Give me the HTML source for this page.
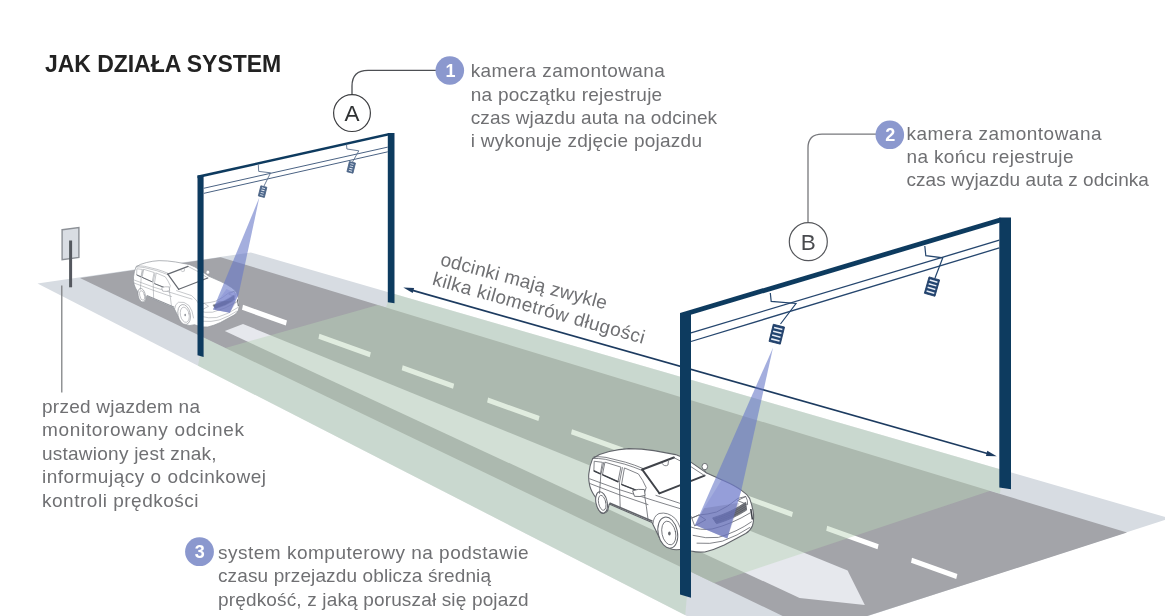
<!DOCTYPE html>
<html lang="pl"><head><meta charset="utf-8"><title>Jak działa system</title>
<style>html,body{margin:0;padding:0;background:#fff}svg{display:block}</style></head>
<body>
<svg width="1165" height="616" viewBox="0 0 1165 616">
<defs><filter id="soft" filterUnits="userSpaceOnUse" x="-40" y="-40" width="1245" height="696"><feGaussianBlur stdDeviation="0.5"/></filter></defs>
<rect width="1165" height="616" fill="#ffffff"/>
<g filter="url(#soft)">
<polygon points="37.5,283.5 250.8,252.5 1169.8,518.4 757.0,651.9" fill="#d7dce2"/>
<polygon points="80.0,278.0 220.7,257.2 1127.0,532.6 816.5,632.3" fill="#a3a4a9"/>
<polygon points="243.0,324.0 847.6,570.6 864.8,605.0 799.6,598.0 224.8,331.0" fill="#e6e8ed"/>
<polygon points="243.0,304.8 287.0,320.6 285.8,325.6 242.0,309.8" fill="#ffffff"/>
<polygon points="319.4,333.8 370.9,352.3 369.7,357.3 318.4,338.8" fill="#ffffff"/>
<polygon points="402.7,365.3 454.2,383.8 453.0,388.8 401.7,370.3" fill="#ffffff"/>
<polygon points="488.1,397.5 539.6,416.1 538.4,421.1 487.1,402.5" fill="#ffffff"/>
<polygon points="572.0,429.3 623.5,447.8 622.3,452.8 571.0,434.3" fill="#ffffff"/>
<polygon points="656.5,461.2 708.0,479.7 706.8,484.7 655.5,466.2" fill="#ffffff"/>
<polygon points="741.5,493.3 793.0,511.9 791.8,516.9 740.5,498.3" fill="#ffffff"/>
<polygon points="827.2,525.7 878.7,544.3 877.5,549.3 826.2,530.7" fill="#ffffff"/>
<polygon points="912.0,557.7 957.4,574.0 956.2,579.0 911.0,562.7" fill="#ffffff"/>
<clipPath id="cg"><polygon points="37.5,283.5 250.8,252.5 1169.8,518.4 757.0,651.9" /></clipPath>
<g clip-path="url(#cg)"><polygon points="392.0,288.0 1003.0,462.0 1000.0,493.7 990.4,490.7 713.9,582.9 689.0,571.0 684.0,630.0 190.0,380.0 197.5,368.0 203.5,337.4 225.4,347.9 377.9,304.9 386.0,307.5" fill="#b9d3b6" fill-opacity="0.44"/></g>
<polygon points="62.1,229.7 78.9,227.5 78.9,257.5 62.1,259.7" fill="#d9dde3" stroke="#8c9096" stroke-width="1.4"/>
<line x1="70.6" y1="240.5" x2="70.6" y2="287.3" stroke="#54585e" stroke-width="3"/>
<line x1="61.8" y1="285.6" x2="61.8" y2="392.4" stroke="#77787b" stroke-width="1.2"/>
<line x1="410.0" y1="289.6" x2="990.0" y2="454.3" stroke="#1d3b60" stroke-width="1.7"/>
<polygon points="403.3,287.6 414.1,287.9 412.7,293.1" fill="#1d3b60"/>
<polygon points="996.7,456.2 985.9,455.9 987.3,450.7" fill="#1d3b60"/>
<g id="car1" transform="translate(-243.9,-26.9) scale(0.641)"><path d="M592.7,458.4 L599.5,454.5 L609.2,451.5 Q619,449 628.7,448.6 Q642,448.6 654,450.6 L675.6,454.6 Q684,457.5 691.2,462.4 L706.7,473.1 L724.3,480.9 Q735,485.5 741.8,490.6 Q747,494 749.6,498.4 Q752.5,506 753.5,514 Q754,521 752.5,525.7 Q750.5,530.5 745.7,533.5 L724.3,545.1 Q714,550 704.8,552 Q697,552.6 691.2,551 L684,548.5 Q676,551 670,548.5 Q664,546 660,539 L652,522.6 L609.2,504.1 L607.5,511 Q604,515 600.5,512.5 Q596.5,508 595.6,497.4 Q591,491 589.7,485.6 Q588.3,480 588.8,473.9 Q589.8,465 592.7,458.4 Z" fill="#ffffff" stroke="#92959b" stroke-width="1.1" stroke-linejoin="round"/>
<ellipse cx="667.8" cy="532.6" rx="9.6" ry="15.8" transform="rotate(-12 667.8 532.6)" fill="#fff" stroke="#92959b" stroke-width="1"/>
<ellipse cx="668.8" cy="533" rx="6.8" ry="12" transform="rotate(-12 668.8 533)" fill="none" stroke="#92959b" stroke-width="0.8" stroke-linejoin="round" stroke-linecap="round"/>
<ellipse cx="669.4" cy="533.4" rx="1.3" ry="2" fill="#92959b"/>
<ellipse cx="601.6" cy="502.4" rx="5.6" ry="10.8" transform="rotate(-12 601.6 502.4)" fill="#fff" stroke="#92959b" stroke-width="1"/>
<ellipse cx="602.2" cy="502.8" rx="3.6" ry="7.6" transform="rotate(-12 602.2 502.8)" fill="none" stroke="#92959b" stroke-width="0.8" stroke-linejoin="round" stroke-linecap="round"/>
<path d="M653,523.5 Q653.5,516 659,513.5 Q668,511.5 675.4,518.7 Q681,526 682.5,538" fill="none" stroke="#92959b" stroke-width="0.8" stroke-linejoin="round" stroke-linecap="round"/>
<path d="M609.5,503 L652.5,521.3" fill="none" stroke="#92959b" stroke-width="1.6"/>
<path d="M592.7,458.4 Q598,458.2 605.3,459.3 L624.8,464.2 Q634,467 642.3,470.5" fill="none" stroke="#92959b" stroke-width="0.8" stroke-linejoin="round" stroke-linecap="round"/>
<path d="M594,456.8 Q600,456.4 606,457.4 L625.5,462.2 Q635,465 643,468.5" fill="none" stroke="#92959b" stroke-width="0.8" stroke-linejoin="round" stroke-linecap="round"/>
<path d="M594.6,461.3 L602.4,462.3 L600.4,473.9 L594.2,471 Z" fill="none" stroke="#92959b" stroke-width="0.8" stroke-linejoin="round" stroke-linecap="round"/>
<path d="M605.3,462.3 L620.9,467.1 L618,481.7 L602.8,474.9 Z" fill="none" stroke="#92959b" stroke-width="0.8" stroke-linejoin="round" stroke-linecap="round"/>
<path d="M624.8,468.1 L638.4,473.9 Q643,480 646.2,487.6 L644.3,493.4 L621.9,484.6 Z" fill="none" stroke="#92959b" stroke-width="0.8" stroke-linejoin="round" stroke-linecap="round"/>
<path d="M594.2,471 L600.4,473.9 M602.8,474.9 L618,481.7 M621.9,484.6 L644.3,493.4" fill="none" stroke="#666a71" stroke-width="1.5" stroke-linecap="round"/>
<path d="M603.8,462.3 L600.8,474.9 L599.5,493.4" fill="none" stroke="#92959b" stroke-width="0.8" stroke-linejoin="round" stroke-linecap="round"/>
<path d="M622.4,467.6 L619.4,482.7 L620.2,507.6" fill="none" stroke="#92959b" stroke-width="0.8" stroke-linejoin="round" stroke-linecap="round"/>
<path d="M644.3,493.4 Q646.5,506 648.1,520" fill="none" stroke="#92959b" stroke-width="0.8" stroke-linejoin="round" stroke-linecap="round"/>
<path d="M589.7,478.8 L618.9,489.5 L655.9,501.2 L680,508.6" fill="none" stroke="#92959b" stroke-width="0.8" stroke-linejoin="round" stroke-linecap="round"/>
<path d="M589.5,483.4 L618.9,494.6 L648,504.6" fill="none" stroke="#92959b" stroke-width="0.8" stroke-linejoin="round" stroke-linecap="round"/>
<path d="M632.6,490.8 Q638,488.6 644.3,489.5 L645.2,495.4 Q640,497.2 634.5,496.3 Z" fill="#fff" stroke="#92959b" stroke-width="0.9"/>
<path d="M642.3,469.6 L673.9,457.6" fill="none" stroke="#666a71" stroke-width="2.1" stroke-linecap="round"/>
<path d="M642.3,469.6 L659.4,493.3" fill="none" stroke="#666a71" stroke-width="1.9" stroke-linecap="round"/>
<path d="M659.4,493.3 L704.6,475.6" fill="none" stroke="#666a71" stroke-width="1.9" stroke-linecap="round"/>
<path d="M673.9,457.6 Q690,465 704.6,475.6" fill="none" stroke="#92959b" stroke-width="0.8" stroke-linejoin="round" stroke-linecap="round"/>
<path d="M662,463.4 Q664.5,467.2 668,465 L668.4,461.4" fill="none" stroke="#92959b" stroke-width="0.8" stroke-linejoin="round" stroke-linecap="round"/>
<ellipse cx="704.8" cy="466.6" rx="2.8" ry="3.2" fill="#fff" stroke="#92959b" stroke-width="0.9"/>
<path d="M704.2,469.6 L706.4,473" fill="none" stroke="#92959b" stroke-width="0.8" stroke-linejoin="round" stroke-linecap="round"/>
<path d="M655.9,495.4 L679.3,503.1 Q687,509 692.1,517.9" fill="none" stroke="#92959b" stroke-width="0.8" stroke-linejoin="round" stroke-linecap="round"/>
<path d="M692.1,517.9 L698.9,515 Q708,514.4 716.5,512 Q728,507 737.9,498.4 L745.7,496.5" fill="none" stroke="#92959b" stroke-width="0.8" stroke-linejoin="round" stroke-linecap="round"/>
<path d="M692.1,517.9 L698.9,515 L705.8,519.8 L695,525.7 Z" fill="none" stroke="#92959b" stroke-width="0.8" stroke-linejoin="round" stroke-linecap="round"/>
<path d="M737.9,500.4 L745.7,496.5 Q748,500 747.6,504.3 Z" fill="none" stroke="#92959b" stroke-width="0.8" stroke-linejoin="round" stroke-linecap="round"/>
<path d="M712.6,517.9 Q731,512.5 745.7,502.3 L746.6,510.1 Q733,519 716.5,523.7 Z" fill="#74777e" stroke="#92959b" stroke-width="0.8"/>
<path d="M713.6,519.4 Q731.4,514.1 745.9,504.2" fill="none" stroke="#4b4e55" stroke-width="0.6"/>
<path d="M714.6,520.8 Q731.8,515.8 746.2,506.2" fill="none" stroke="#4b4e55" stroke-width="0.6"/>
<path d="M715.5,522.2 Q732.1,517.4 746.4,508.2" fill="none" stroke="#4b4e55" stroke-width="0.6"/>
<path d="M693.1,535.4 Q706,539 718.4,537.4 Q737,532 751.5,521.8" fill="none" stroke="#92959b" stroke-width="0.8" stroke-linejoin="round" stroke-linecap="round"/>
<path d="M697,543.2 Q710,544.5 722.3,541.2 Q738,535.5 749.6,527.6" fill="none" stroke="#92959b" stroke-width="0.8" stroke-linejoin="round" stroke-linecap="round"/>
<path d="M691,527 Q700,530.5 712,529 Q732,524 750,513" fill="none" stroke="#92959b" stroke-width="0.8" stroke-linejoin="round" stroke-linecap="round"/>
<path d="M750.8,509 L752.4,519.5" fill="none" stroke="#666a71" stroke-width="1.6"/></g>
<g id="car2"><path d="M592.7,458.4 L599.5,454.5 L609.2,451.5 Q619,449 628.7,448.6 Q642,448.6 654,450.6 L675.6,454.6 Q684,457.5 691.2,462.4 L706.7,473.1 L724.3,480.9 Q735,485.5 741.8,490.6 Q747,494 749.6,498.4 Q752.5,506 753.5,514 Q754,521 752.5,525.7 Q750.5,530.5 745.7,533.5 L724.3,545.1 Q714,550 704.8,552 Q697,552.6 691.2,551 L684,548.5 Q676,551 670,548.5 Q664,546 660,539 L652,522.6 L609.2,504.1 L607.5,511 Q604,515 600.5,512.5 Q596.5,508 595.6,497.4 Q591,491 589.7,485.6 Q588.3,480 588.8,473.9 Q589.8,465 592.7,458.4 Z" fill="#ffffff" stroke="#62656b" stroke-width="1.1" stroke-linejoin="round"/>
<ellipse cx="667.8" cy="532.6" rx="9.6" ry="15.8" transform="rotate(-12 667.8 532.6)" fill="#fff" stroke="#62656b" stroke-width="1"/>
<ellipse cx="668.8" cy="533" rx="6.8" ry="12" transform="rotate(-12 668.8 533)" fill="none" stroke="#62656b" stroke-width="0.8" stroke-linejoin="round" stroke-linecap="round"/>
<ellipse cx="669.4" cy="533.4" rx="1.3" ry="2" fill="#62656b"/>
<ellipse cx="601.6" cy="502.4" rx="5.6" ry="10.8" transform="rotate(-12 601.6 502.4)" fill="#fff" stroke="#62656b" stroke-width="1"/>
<ellipse cx="602.2" cy="502.8" rx="3.6" ry="7.6" transform="rotate(-12 602.2 502.8)" fill="none" stroke="#62656b" stroke-width="0.8" stroke-linejoin="round" stroke-linecap="round"/>
<path d="M653,523.5 Q653.5,516 659,513.5 Q668,511.5 675.4,518.7 Q681,526 682.5,538" fill="none" stroke="#62656b" stroke-width="0.8" stroke-linejoin="round" stroke-linecap="round"/>
<path d="M609.5,503 L652.5,521.3" fill="none" stroke="#62656b" stroke-width="1.6"/>
<path d="M592.7,458.4 Q598,458.2 605.3,459.3 L624.8,464.2 Q634,467 642.3,470.5" fill="none" stroke="#62656b" stroke-width="0.8" stroke-linejoin="round" stroke-linecap="round"/>
<path d="M594,456.8 Q600,456.4 606,457.4 L625.5,462.2 Q635,465 643,468.5" fill="none" stroke="#62656b" stroke-width="0.8" stroke-linejoin="round" stroke-linecap="round"/>
<path d="M594.6,461.3 L602.4,462.3 L600.4,473.9 L594.2,471 Z" fill="none" stroke="#62656b" stroke-width="0.8" stroke-linejoin="round" stroke-linecap="round"/>
<path d="M605.3,462.3 L620.9,467.1 L618,481.7 L602.8,474.9 Z" fill="none" stroke="#62656b" stroke-width="0.8" stroke-linejoin="round" stroke-linecap="round"/>
<path d="M624.8,468.1 L638.4,473.9 Q643,480 646.2,487.6 L644.3,493.4 L621.9,484.6 Z" fill="none" stroke="#62656b" stroke-width="0.8" stroke-linejoin="round" stroke-linecap="round"/>
<path d="M594.2,471 L600.4,473.9 M602.8,474.9 L618,481.7 M621.9,484.6 L644.3,493.4" fill="none" stroke="#3f4349" stroke-width="1.5" stroke-linecap="round"/>
<path d="M603.8,462.3 L600.8,474.9 L599.5,493.4" fill="none" stroke="#62656b" stroke-width="0.8" stroke-linejoin="round" stroke-linecap="round"/>
<path d="M622.4,467.6 L619.4,482.7 L620.2,507.6" fill="none" stroke="#62656b" stroke-width="0.8" stroke-linejoin="round" stroke-linecap="round"/>
<path d="M644.3,493.4 Q646.5,506 648.1,520" fill="none" stroke="#62656b" stroke-width="0.8" stroke-linejoin="round" stroke-linecap="round"/>
<path d="M589.7,478.8 L618.9,489.5 L655.9,501.2 L680,508.6" fill="none" stroke="#62656b" stroke-width="0.8" stroke-linejoin="round" stroke-linecap="round"/>
<path d="M589.5,483.4 L618.9,494.6 L648,504.6" fill="none" stroke="#62656b" stroke-width="0.8" stroke-linejoin="round" stroke-linecap="round"/>
<path d="M632.6,490.8 Q638,488.6 644.3,489.5 L645.2,495.4 Q640,497.2 634.5,496.3 Z" fill="#fff" stroke="#62656b" stroke-width="0.9"/>
<path d="M642.3,469.6 L673.9,457.6" fill="none" stroke="#3f4349" stroke-width="2.1" stroke-linecap="round"/>
<path d="M642.3,469.6 L659.4,493.3" fill="none" stroke="#3f4349" stroke-width="1.9" stroke-linecap="round"/>
<path d="M659.4,493.3 L704.6,475.6" fill="none" stroke="#3f4349" stroke-width="1.9" stroke-linecap="round"/>
<path d="M673.9,457.6 Q690,465 704.6,475.6" fill="none" stroke="#62656b" stroke-width="0.8" stroke-linejoin="round" stroke-linecap="round"/>
<path d="M662,463.4 Q664.5,467.2 668,465 L668.4,461.4" fill="none" stroke="#62656b" stroke-width="0.8" stroke-linejoin="round" stroke-linecap="round"/>
<ellipse cx="704.8" cy="466.6" rx="2.8" ry="3.2" fill="#fff" stroke="#62656b" stroke-width="0.9"/>
<path d="M704.2,469.6 L706.4,473" fill="none" stroke="#62656b" stroke-width="0.8" stroke-linejoin="round" stroke-linecap="round"/>
<path d="M655.9,495.4 L679.3,503.1 Q687,509 692.1,517.9" fill="none" stroke="#62656b" stroke-width="0.8" stroke-linejoin="round" stroke-linecap="round"/>
<path d="M692.1,517.9 L698.9,515 Q708,514.4 716.5,512 Q728,507 737.9,498.4 L745.7,496.5" fill="none" stroke="#62656b" stroke-width="0.8" stroke-linejoin="round" stroke-linecap="round"/>
<path d="M692.1,517.9 L698.9,515 L705.8,519.8 L695,525.7 Z" fill="none" stroke="#62656b" stroke-width="0.8" stroke-linejoin="round" stroke-linecap="round"/>
<path d="M737.9,500.4 L745.7,496.5 Q748,500 747.6,504.3 Z" fill="none" stroke="#62656b" stroke-width="0.8" stroke-linejoin="round" stroke-linecap="round"/>
<path d="M712.6,517.9 Q731,512.5 745.7,502.3 L746.6,510.1 Q733,519 716.5,523.7 Z" fill="#74777e" stroke="#62656b" stroke-width="0.8"/>
<path d="M713.6,519.4 Q731.4,514.1 745.9,504.2" fill="none" stroke="#4b4e55" stroke-width="0.6"/>
<path d="M714.6,520.8 Q731.8,515.8 746.2,506.2" fill="none" stroke="#4b4e55" stroke-width="0.6"/>
<path d="M715.5,522.2 Q732.1,517.4 746.4,508.2" fill="none" stroke="#4b4e55" stroke-width="0.6"/>
<path d="M693.1,535.4 Q706,539 718.4,537.4 Q737,532 751.5,521.8" fill="none" stroke="#62656b" stroke-width="0.8" stroke-linejoin="round" stroke-linecap="round"/>
<path d="M697,543.2 Q710,544.5 722.3,541.2 Q738,535.5 749.6,527.6" fill="none" stroke="#62656b" stroke-width="0.8" stroke-linejoin="round" stroke-linecap="round"/>
<path d="M691,527 Q700,530.5 712,529 Q732,524 750,513" fill="none" stroke="#62656b" stroke-width="0.8" stroke-linejoin="round" stroke-linecap="round"/>
<path d="M750.8,509 L752.4,519.5" fill="none" stroke="#3f4349" stroke-width="1.6"/></g>
<polygon points="259.3,197.6 238.5,294.8 229.8,312.8 213.0,309.6" fill="#6878c8" fill-opacity="0.6"/>
<polygon points="226.5,289.0 238.5,294.8 229.8,312.8 213.0,309.6 218.0,301.0" fill="#7a80d0" fill-opacity="0.35"/>
<polygon points="218.0,301.0 237.0,301.2 229.8,312.8 213.0,309.6" fill="#50558a" fill-opacity="0.22"/>
<polygon points="773.0,347.7 741.5,489.5 727.3,538.5 695.0,525.0" fill="#6878c8" fill-opacity="0.6"/>
<polygon points="722.2,479.0 741.5,489.5 727.3,538.5 695.0,525.0 704.0,508.2" fill="#7a80d0" fill-opacity="0.35"/>
<polygon points="704.0,508.2 739.5,502.8 727.3,538.5 695.0,525.0" fill="#50558a" fill-opacity="0.22"/>
<polygon points="197.5,175.6 203.6,175.6 203.6,357.0 197.5,355.2" fill="#113a5f"/>
<polygon points="387.8,133.0 394.5,133.0 394.5,303.2 387.8,302.2" fill="#113a5f"/>
<polygon points="197.5,175.6 388.8,133.0 388.8,135.6 197.5,178.2" fill="#113a5f"/>
<line x1="203.6" y1="188.3" x2="387.8" y2="147.1" stroke="#4a6283" stroke-width="1.0"/>
<line x1="203.6" y1="193.4" x2="387.8" y2="151.8" stroke="#4a6283" stroke-width="1.0"/>
<polygon points="680.0,313.0 691.0,313.0 691.0,597.8 680.0,594.5" fill="#113a5f"/>
<polygon points="999.3,217.5 1011.0,217.5 1011.0,489.3 999.3,487.5" fill="#113a5f"/>
<polygon points="680.0,313.0 1000.3,217.5 1000.3,222.5 680.0,318.0" fill="#113a5f"/>
<line x1="691.0" y1="332.9" x2="999.3" y2="240.2" stroke="#25466e" stroke-width="1.3"/>
<line x1="691.0" y1="341.5" x2="999.3" y2="247.9" stroke="#25466e" stroke-width="1.3"/>
<polyline points="258.3,164.5 258.7,171.4 270.6,172.8 264.0,186.0" fill="none" stroke="#5a6f8c" stroke-width="0.9"/>
<g transform="translate(262.6,191.6) rotate(14)"><rect x="-3.1" y="-5.2" width="6.2" height="10.4" fill="#4e688c" stroke="#4a6283" stroke-width="0.8"/><line x1="-1.6" y1="-3.5" x2="1.6" y2="-3.5" stroke="#e8edf5" stroke-width="0.94"/><line x1="-1.6" y1="-1.2" x2="1.6" y2="-1.2" stroke="#e8edf5" stroke-width="0.94"/><line x1="-1.6" y1="1.2" x2="1.6" y2="1.2" stroke="#e8edf5" stroke-width="0.94"/><line x1="-1.6" y1="3.5" x2="1.6" y2="3.5" stroke="#e8edf5" stroke-width="0.94"/></g>
<polyline points="346.5,144.5 346.9,149.0 358.8,150.8 352.5,162.0" fill="none" stroke="#5a6f8c" stroke-width="0.9"/>
<g transform="translate(351.2,167.4) rotate(14)"><rect x="-3.1" y="-5.2" width="6.2" height="10.4" fill="#4e688c" stroke="#4a6283" stroke-width="0.8"/><line x1="-1.6" y1="-3.5" x2="1.6" y2="-3.5" stroke="#e8edf5" stroke-width="0.94"/><line x1="-1.6" y1="-1.2" x2="1.6" y2="-1.2" stroke="#e8edf5" stroke-width="0.94"/><line x1="-1.6" y1="1.2" x2="1.6" y2="1.2" stroke="#e8edf5" stroke-width="0.94"/><line x1="-1.6" y1="3.5" x2="1.6" y2="3.5" stroke="#e8edf5" stroke-width="0.94"/></g>
<polyline points="770.3,293.0 771.2,301.4 796.0,303.5 780.5,324.0" fill="none" stroke="#25466e" stroke-width="1.2"/>
<g transform="translate(776.8,334.2) rotate(14)"><rect x="-5.8" y="-8.8" width="11.6" height="17.6" fill="#224470" stroke="#1b3a63" stroke-width="0.8"/><line x1="-4.3" y1="-5.9" x2="4.3" y2="-5.9" stroke="#e8edf5" stroke-width="1.58"/><line x1="-4.3" y1="-2.0" x2="4.3" y2="-2.0" stroke="#e8edf5" stroke-width="1.58"/><line x1="-4.3" y1="2.0" x2="4.3" y2="2.0" stroke="#e8edf5" stroke-width="1.58"/><line x1="-4.3" y1="5.9" x2="4.3" y2="5.9" stroke="#e8edf5" stroke-width="1.58"/></g>
<polyline points="924.8,246.0 925.8,255.6 942.8,257.8 935.0,278.0" fill="none" stroke="#25466e" stroke-width="1.2"/>
<g transform="translate(932,286.6) rotate(16)"><rect x="-5.5" y="-8.5" width="11" height="17" fill="#224470" stroke="#1b3a63" stroke-width="0.8"/><line x1="-4.0" y1="-5.7" x2="4.0" y2="-5.7" stroke="#e8edf5" stroke-width="1.53"/><line x1="-4.0" y1="-1.9" x2="4.0" y2="-1.9" stroke="#e8edf5" stroke-width="1.53"/><line x1="-4.0" y1="1.9" x2="4.0" y2="1.9" stroke="#e8edf5" stroke-width="1.53"/><line x1="-4.0" y1="5.7" x2="4.0" y2="5.7" stroke="#e8edf5" stroke-width="1.53"/></g>
<path d="M352,94.6 V86 Q352,70.3 368,70.3 H437" fill="none" stroke="#4d4f53" stroke-width="1.3"/>
<circle cx="352" cy="113.1" r="18.4" fill="#fff" stroke="#3c3d40" stroke-width="1.2"/>
<path d="M808,222.4 V148 Q808,134.2 822,134.2 H876" fill="none" stroke="#77787c" stroke-width="1.3"/>
<circle cx="808.3" cy="241.7" r="19" fill="#fff" stroke="#55575b" stroke-width="1.2"/>
<circle cx="449.8" cy="70.5" r="14.3" fill="#8b98ce"/>
<circle cx="889.8" cy="134.8" r="14.3" fill="#8b98ce"/>
<circle cx="199.5" cy="551.7" r="14.4" fill="#8b98ce"/>
<text x="352" y="121.2" font-size="22.5" fill="#2f3033" font-family="Liberation Sans, sans-serif" text-anchor="middle" >A</text>
<text x="808.3" y="249.8" font-size="22.5" fill="#4a4b4f" font-family="Liberation Sans, sans-serif" text-anchor="middle" >B</text>
<text x="450.4" y="76.8" font-size="18" fill="#fff" font-family="Liberation Sans, sans-serif" font-weight="bold" text-anchor="middle" >1</text>
<text x="890.2" y="141.1" font-size="18" fill="#fff" font-family="Liberation Sans, sans-serif" font-weight="bold" text-anchor="middle" >2</text>
<text x="199.8" y="558.2" font-size="18" fill="#fff" font-family="Liberation Sans, sans-serif" font-weight="bold" text-anchor="middle" >3</text>
<text x="44.9" y="72" font-size="23" fill="#222" font-family="Liberation Sans, sans-serif" textLength="236.3" lengthAdjust="spacing" font-weight="bold" >JAK DZIAŁA SYSTEM</text>
<text x="470.7" y="77.4" font-size="19" fill="#6f7073" font-family="Liberation Sans, sans-serif" textLength="194.2" lengthAdjust="spacing" >kamera zamontowana</text>
<text x="470.7" y="100.75" font-size="19" fill="#6f7073" font-family="Liberation Sans, sans-serif" textLength="191.5" lengthAdjust="spacing" >na początku rejestruje</text>
<text x="470.7" y="124.10000000000001" font-size="19" fill="#6f7073" font-family="Liberation Sans, sans-serif" textLength="246.4" lengthAdjust="spacing" >czas wjazdu auta na odcinek</text>
<text x="470.7" y="147.45000000000002" font-size="19" fill="#6f7073" font-family="Liberation Sans, sans-serif" textLength="231.3" lengthAdjust="spacing" >i wykonuje zdjęcie pojazdu</text>
<text x="906.5" y="139.6" font-size="19" fill="#6f7073" font-family="Liberation Sans, sans-serif" textLength="195" lengthAdjust="spacing" >kamera zamontowana</text>
<text x="906.5" y="162.95" font-size="19" fill="#6f7073" font-family="Liberation Sans, sans-serif" textLength="167" lengthAdjust="spacing" >na końcu rejestruje</text>
<text x="906.5" y="186.3" font-size="19" fill="#6f7073" font-family="Liberation Sans, sans-serif" textLength="242.4" lengthAdjust="spacing" >czas wyjazdu auta z odcinka</text>
<text x="218" y="559.0" font-size="19" fill="#6f7073" font-family="Liberation Sans, sans-serif" textLength="310.7" lengthAdjust="spacing" >system komputerowy na podstawie</text>
<text x="218" y="582.25" font-size="19" fill="#6f7073" font-family="Liberation Sans, sans-serif" textLength="273" lengthAdjust="spacing" >czasu przejazdu oblicza średnią</text>
<text x="218" y="605.5" font-size="19" fill="#6f7073" font-family="Liberation Sans, sans-serif" textLength="310.7" lengthAdjust="spacing" >prędkość, z jaką poruszał się pojazd</text>
<text x="42" y="413.1" font-size="19" fill="#6f7073" font-family="Liberation Sans, sans-serif" textLength="158" lengthAdjust="spacing" >przed wjazdem na</text>
<text x="42" y="436.45000000000005" font-size="19" fill="#6f7073" font-family="Liberation Sans, sans-serif" textLength="202" lengthAdjust="spacing" >monitorowany odcinek</text>
<text x="42" y="459.8" font-size="19" fill="#6f7073" font-family="Liberation Sans, sans-serif" textLength="174.5" lengthAdjust="spacing" >ustawiony jest znak,</text>
<text x="42" y="483.15000000000003" font-size="19" fill="#6f7073" font-family="Liberation Sans, sans-serif" textLength="224" lengthAdjust="spacing" >informujący o odcinkowej</text>
<text x="42" y="506.5" font-size="19" fill="#6f7073" font-family="Liberation Sans, sans-serif" textLength="156.6" lengthAdjust="spacing" >kontroli prędkości</text>
<text x="439.4" y="265" font-size="19" fill="#6f7073" font-family="Liberation Sans, sans-serif" textLength="171.7" lengthAdjust="spacing" transform="rotate(15.0 439.4 265)">odcinki mają zwykle</text>
<text x="431.6" y="284.5" font-size="19" fill="#6f7073" font-family="Liberation Sans, sans-serif" textLength="219.3" lengthAdjust="spacing" transform="rotate(15.7 431.6 284.5)">kilka kilometrów długości</text>
</g>
</svg>
</body></html>
